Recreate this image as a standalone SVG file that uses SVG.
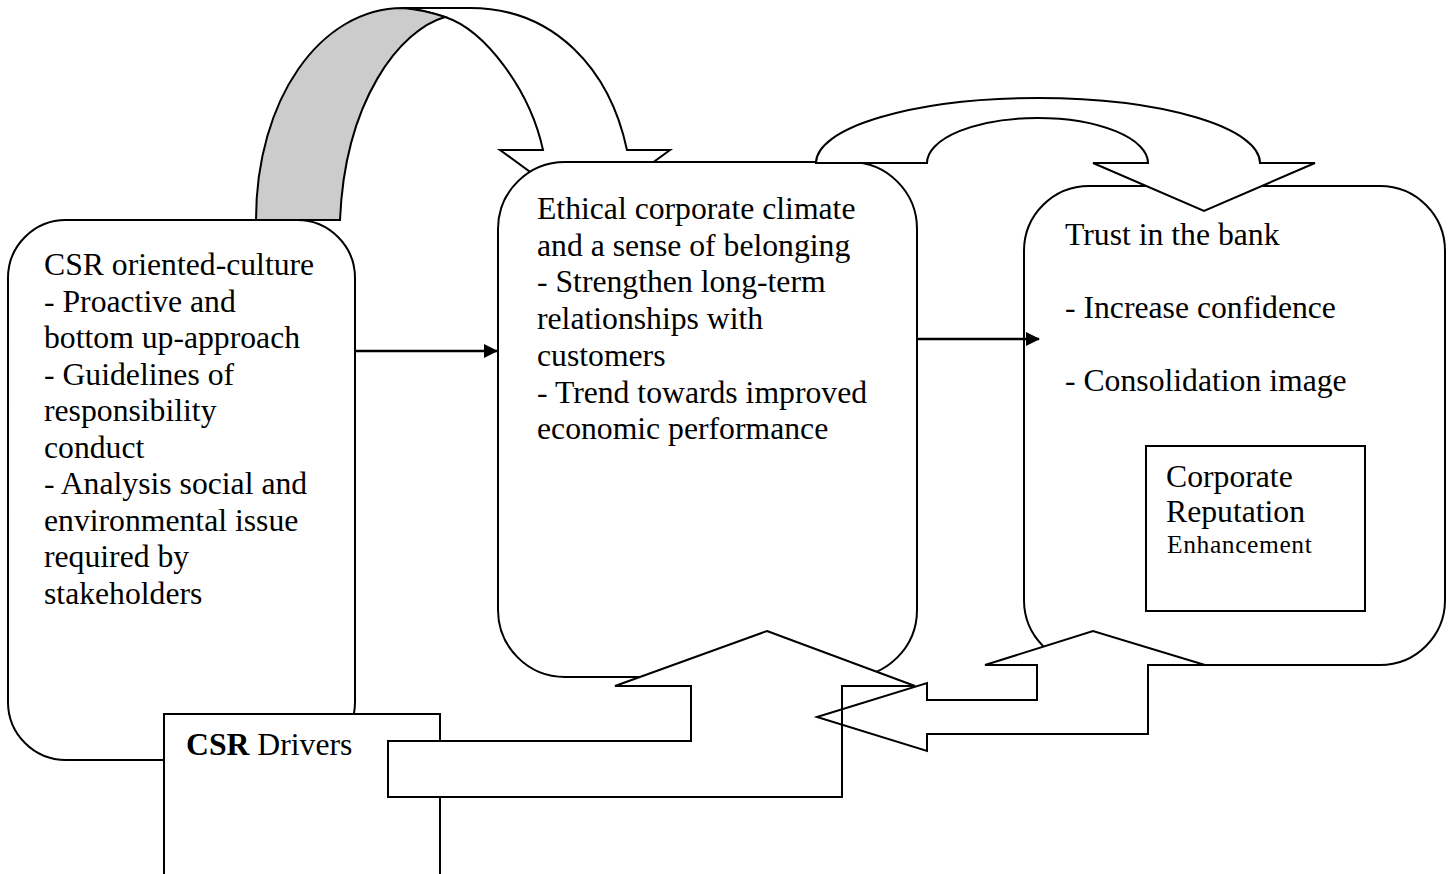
<svg xmlns="http://www.w3.org/2000/svg" width="1453" height="874" viewBox="0 0 1453 874">
<defs>
<style>
.sh{fill:#fff;stroke:#000;stroke-width:2;stroke-linejoin:miter}
.ol{fill:none;stroke:#000;stroke-width:2}
.fl{fill:#fff;stroke:none}
.t{font-family:"Liberation Serif","Times New Roman",serif;font-size:31.7px;fill:#000}
.conn{stroke:#000;stroke-width:2.5;fill:none}
</style>
<marker id="ah" markerUnits="userSpaceOnUse" markerWidth="14" markerHeight="14" refX="13" refY="7" orient="auto">
<path d="M0,0 L14,7 L0,14 Z" fill="#000"/>
</marker>
</defs>
<rect width="1453" height="874" fill="#fff"/>

<g id="curved-arrow-1">
<path class="sh" d="M403,8 L470,8 C555,8 610,70 627,150 L670,150 L585,212 L500,150 L543,150 C530,90 485,30 445,17 C430,12 415,9 403,8 Z"/>
<path d="M256,220 C256,100 320,8 403,8 C415,9 430,12 445,17 C400,30 345,100 340,220 Z" fill="#cccccc" stroke="#000" stroke-width="2"/>
</g>

<g id="node-csr-culture">
<rect class="sh" x="8" y="220" width="347" height="540" rx="58" ry="58"/>
<text class="t" x="44" y="275">CSR oriented-culture</text>
<text class="t" x="44" y="311.5">- Proactive and</text>
<text class="t" x="44" y="348">bottom up-approach</text>
<text class="t" x="44" y="384.5">- Guidelines of</text>
<text class="t" x="44" y="421">responsibility</text>
<text class="t" x="44" y="457.5">conduct</text>
<text class="t" x="44" y="494">- Analysis social and</text>
<text class="t" x="44" y="530.5">environmental issue</text>
<text class="t" x="44" y="567">required by</text>
<text class="t" x="44" y="603.5">stakeholders</text>
</g>

<g id="node-ethical">
<rect class="sh" x="498" y="162" width="419" height="515" rx="67" ry="67"/>
<text class="t" x="537" y="219">Ethical corporate climate</text>
<text class="t" x="537" y="255.7">and a sense of belonging</text>
<text class="t" x="537" y="292.4">- Strengthen long-term</text>
<text class="t" x="537" y="329.1">relationships with</text>
<text class="t" x="537" y="365.8">customers</text>
<text class="t" x="537" y="402.5">- Trend towards improved</text>
<text class="t" x="537" y="439.2">economic performance</text>
</g>

<g id="node-trust">
<rect class="sh" x="1024" y="186" width="421" height="479" rx="65" ry="65"/>
<text class="t" x="1065" y="245">Trust in the bank</text>
<text class="t" x="1065" y="318">- Increase confidence</text>
<text class="t" x="1065" y="391">- Consolidation image</text>
</g>

<g id="curved-arrow-2">
<path class="sh" d="M816,163 A222,65 0 0 1 1260,163 L1315,163 L1204,211 L1093,163 L1148,163 A110.5,45 0 0 0 927,163 Z"/>
</g>

<g id="node-reputation">
<rect class="sh" x="1146" y="446" width="219" height="165"/>
<text class="t" x="1166" y="487">Corporate</text>
<text class="t" x="1166" y="522">Reputation</text>
<text class="t" x="1167" y="553" style="font-size:25.5px;letter-spacing:0.6px">Enhancement</text>
</g>

<g id="node-csr-drivers">
<rect class="sh" x="164" y="714" width="276" height="180"/>
<text class="t" x="186" y="755"><tspan font-weight="bold">CSR</tspan> Drivers</text>
</g>

<g id="bottom-arrows">
<path class="fl" d="M817,717 L927,683 L927,700 L1037,700 L1037,665 L985,665 L1093,631 L1205,665 L1148,665 L1148,734 L927,734 L927,751 Z"/>
<path class="fl" d="M767,631 L915,686 L842,686 L842,797 L388,797 L388,741 L691,741 L691,686 L615,686 Z"/>
<path class="ol" d="M817,717 L927,683 L927,700 L1037,700 L1037,665 L985,665 L1093,631 L1205,665 L1148,665 L1148,734 L927,734 L927,751 Z"/>
<path class="ol" d="M767,631 L915,686 L842,686 L842,797 L388,797 L388,741 L691,741 L691,686 L615,686 Z"/>
</g>

<g id="connectors">
<line class="conn" x1="355" y1="351" x2="497" y2="351" marker-end="url(#ah)"/>
<line class="conn" x1="917" y1="339" x2="1039" y2="339" marker-end="url(#ah)"/>
</g>
</svg>
